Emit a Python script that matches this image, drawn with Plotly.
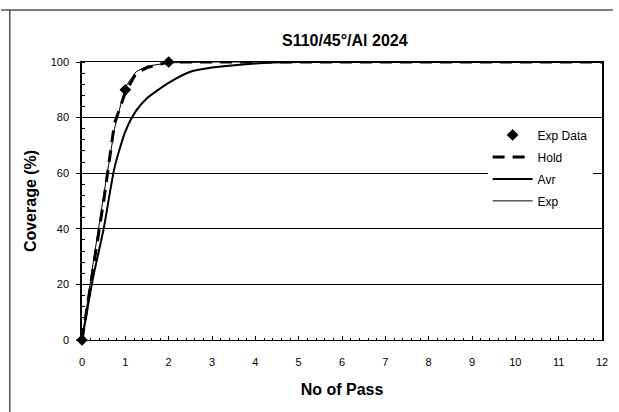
import plotly.graph_objects as go

# Data
exp_x = [0, 1, 2]
exp_y = [0, 90, 100]

hold_x = [0, 0.25, 0.5, 0.75, 1, 1.25, 1.5, 2, 3, 4, 6, 8, 10, 12]
hold_y = [0, 25, 50, 78, 89, 96, 98, 100, 100, 100, 100, 100, 100, 100]

avr_x = [0, 0.25, 0.5, 0.75, 1, 1.25, 1.5, 2, 2.5, 3, 4, 5, 6, 8, 10, 12]
avr_y = [0, 22, 40, 62, 75, 82.5, 87, 92.5, 96.5, 98, 99.5, 100, 100, 100, 100, 100]

expfit_x = [0, 0.25, 0.5, 0.75, 1, 1.25, 1.5, 2, 3, 4, 6, 8, 10, 12]
expfit_y = [0, 27, 52, 76, 91, 96.5, 98.5, 99.7, 100, 100, 100, 100, 100, 100]

x_ticks = list(range(0, 13))
y_ticks = [0, 20, 40, 60, 80, 100]

FONT = "Arial, Liberation Sans, sans-serif"

fig = go.Figure()
fig.add_trace(go.Scatter(x=exp_x, y=exp_y, mode="markers", name="Exp Data",
                         legendgroup="a",
                         marker=dict(symbol="diamond", size=9, color="black"),
                         cliponaxis=False))
fig.add_trace(go.Scatter(x=hold_x, y=hold_y, mode="lines", name="Hold",
                         legendgroup="b",
                         line=dict(color="black", width=3, dash="12px,8px")))
fig.add_trace(go.Scatter(x=avr_x, y=avr_y, mode="lines", name="Avr",
                         legendgroup="c",
                         line=dict(color="black", width=2, shape="spline", smoothing=0.6)))
fig.add_trace(go.Scatter(x=expfit_x, y=expfit_y, mode="lines", name="Exp",
                         legendgroup="d",
                         line=dict(color="black", width=1)))

fig.update_layout(
    width=619, height=412,
    margin=dict(l=82, r=11, t=62, b=72),
    paper_bgcolor="white", plot_bgcolor="white",
    font=dict(family=FONT, color="black", size=11),
    title=dict(text="<b>S110/45°/Al 2024</b>", x=0.557, xanchor="center",
               y=1 - 40 / 412, yanchor="middle", font=dict(size=16)),
    showlegend=True,
    legend=dict(x=0.78, y=0.79, xanchor="left", yanchor="top",
                bgcolor="white", borderwidth=0, font=dict(size=12),
                tracegroupgap=3, itemwidth=40),
    xaxis=dict(range=[0, 12], tickvals=x_ticks, showgrid=False, zeroline=False,
               showline=True, linecolor="black", linewidth=1, mirror=True,
               ticks="inside", ticklen=4, tickcolor="black",
               minor=dict(dtick=0.2, ticks="inside", ticklen=2, tickcolor="black"),
               tickfont=dict(size=11), ticklabelstandoff=12,
               title=dict(text="<b>No of Pass</b>", font=dict(size=16), standoff=16)),
    yaxis=dict(range=[0, 100], tickvals=y_ticks, showgrid=True, gridcolor="black",
               gridwidth=1, zeroline=False,
               showline=True, linecolor="black", linewidth=1.5, mirror=True,
               ticks="outside", ticklen=4, tickcolor="black",
               minor=dict(dtick=4, ticks="inside", ticklen=3, tickcolor="black"),
               tickfont=dict(size=11), ticklabelstandoff=5,
               title=dict(text="<b>Coverage (%)</b>", font=dict(size=16), standoff=10)),
    shapes=[
        dict(type="line", xref="paper", yref="paper", x0=-82/526, x1=1 + 11/526,
             y0=1 + 52/278, y1=1 + 52/278, line=dict(color="black", width=1)),
        dict(type="line", xref="paper", yref="paper", x0=-73/526, x1=-73/526,
             y0=1 + 52/278, y1=-72/278, line=dict(color="black", width=1)),
    ],
)

fig.write_html("out.html")
